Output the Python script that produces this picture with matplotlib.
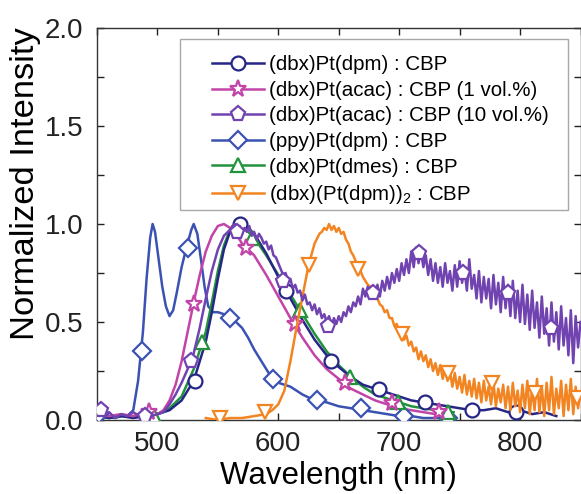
import matplotlib
matplotlib.use("Agg")
import matplotlib.pyplot as plt
from matplotlib.lines import Line2D
from matplotlib.patches import Rectangle
from matplotlib.ticker import MultipleLocator

plt.rcParams['font.family'] = ['Liberation Sans', 'DejaVu Sans']
plt.rcParams['mathtext.default'] = 'regular'

# ---------------- data ----------------
labels = ["(dbx)Pt(dpm) : CBP",
          "(dbx)Pt(acac) : CBP (1 vol.%)",
          "(dbx)Pt(acac) : CBP (10 vol.%)",
          "(ppy)Pt(dpm) : CBP",
          "(dbx)Pt(dmes) : CBP",
          "(dbx)(Pt(dpm))$_{2}$ : CBP"]
colors = ["#262687", "#c244a8", "#7143b0", "#3b52b2", "#22933c", "#f28522"]
markers = ["o", "*", "p", "D", "^", "v"]

# (dbx)Pt(dpm)
dpm_wl = [450, 460, 470, 480, 490, 500, 510, 520, 530, 540, 545, 550, 555, 560, 565, 570,
          575, 580, 590, 600, 610, 620, 630, 640, 650, 660, 670, 680, 690, 700, 710, 720,
          730, 740, 750, 760, 770, 780, 790, 800, 810, 820, 830]
dpm_I = [0.02, 0.01, 0.02, 0.01, 0.02, 0.03, 0.05, 0.10, 0.20, 0.40, 0.55, 0.72, 0.87, 0.96, 0.99, 1.00,
         0.98, 0.95, 0.85, 0.73, 0.62, 0.51, 0.41, 0.33, 0.27, 0.22, 0.18, 0.16, 0.14, 0.12, 0.10, 0.09,
         0.08, 0.07, 0.06, 0.05, 0.05, 0.06, 0.04, 0.05, 0.03, 0.04, 0.02]
dpm_mk_wl = [531, 568, 606, 644, 683, 721, 760, 797]
dpm_mk_I = [0.20, 1.00, 0.66, 0.30, 0.16, 0.09, 0.05, 0.04]

# (dbx)Pt(acac) 1 vol.%
acac1_wl = [450, 460, 470, 480, 485, 490, 493, 496, 500, 505, 510, 515, 520, 525, 530, 535,
            540, 545, 550, 555, 560, 565, 570, 575, 580, 590, 600, 610, 620, 630, 640, 650,
            660, 670, 680, 690, 700, 710, 720, 730, 740]
acac1_I = [0.02, 0.02, 0.03, 0.02, 0.03, 0.05, 0.06, 0.04, 0.03, 0.05, 0.10, 0.18, 0.30, 0.45, 0.60, 0.74,
           0.86, 0.94, 0.99, 1.00, 0.98, 0.95, 0.90, 0.87, 0.84, 0.74, 0.63, 0.52, 0.42, 0.33, 0.26, 0.21,
           0.16, 0.13, 0.10, 0.08, 0.06, 0.05, 0.04, 0.03, 0.02]
acac1_mk_wl = [493, 530, 573, 614, 655, 694, 733]
acac1_mk_I = [0.04, 0.59, 0.88, 0.49, 0.19, 0.085, 0.04]

# (dbx)Pt(acac) 10 vol.%
acac10_wl = [450, 455, 460, 465, 470, 475, 480, 485, 490, 495, 500, 505, 510, 515, 520, 525,
             530, 535, 540, 545, 550, 555,
             560, 562, 564, 566, 568, 570, 572, 574, 576, 578, 580, 582, 584, 586, 588, 590,
             592, 594, 596, 598, 600, 602, 604, 606, 608, 610, 612, 614, 616, 618, 620, 622,
             624, 626, 628, 630, 632, 634, 636, 638, 640, 642, 644, 646, 648, 650, 652, 654,
             656, 658, 660, 662, 664, 666, 668, 670, 672, 674, 676, 678, 680, 682, 684, 686,
             688, 690, 692, 694, 696, 698, 700, 702, 704, 706, 708, 710, 712, 714, 716, 718,
             720, 722, 724, 726, 728, 730, 732, 734, 736, 738, 740, 742, 744, 746, 748, 750,
             752, 754, 756, 758, 760, 762, 764, 766, 768, 770, 772, 774, 776, 778, 780, 782,
             784, 786, 788, 790, 792, 794, 796, 798, 800, 802, 804, 806, 808, 810, 812, 814,
             816, 818, 820, 822, 824, 826, 828, 830, 832, 834, 836, 838, 840, 842, 844, 846,
             848, 850]
acac10_I = [0.05, 0.02, 0.04, 0.01, 0.03, 0.02, 0.04, 0.02, 0.04, 0.02, 0.03, 0.04, 0.08, 0.13, 0.19, 0.26,
            0.34, 0.47, 0.62, 0.76, 0.87, 0.94,
            0.97, 0.99, 1.00, 0.97, 0.99, 0.95, 0.98, 0.96, 0.99, 0.94, 0.96, 0.92, 0.95, 0.93, 0.90, 0.91,
            0.87, 0.89, 0.84, 0.83, 0.80, 0.77, 0.74, 0.75, 0.71, 0.72, 0.67, 0.69, 0.65, 0.66, 0.61, 0.64,
            0.59, 0.60, 0.56, 0.59, 0.54, 0.57, 0.52, 0.54, 0.50, 0.53, 0.48, 0.52, 0.49, 0.53, 0.50, 0.55,
            0.53, 0.58, 0.55, 0.60, 0.58, 0.63, 0.59, 0.67, 0.63, 0.68, 0.62, 0.67, 0.64, 0.69, 0.63, 0.71,
            0.66, 0.73, 0.67, 0.75, 0.70, 0.77, 0.71, 0.80, 0.74, 0.82, 0.75, 0.86, 0.78, 0.88, 0.80, 0.86,
            0.78, 0.84, 0.74, 0.82, 0.71, 0.80, 0.70, 0.78, 0.68, 0.80, 0.70, 0.76, 0.66, 0.79, 0.68, 0.81,
            0.70, 0.77, 0.66, 0.82, 0.67, 0.74, 0.62, 0.76, 0.60, 0.73, 0.62, 0.72, 0.57, 0.74, 0.59, 0.70,
            0.55, 0.73, 0.57, 0.69, 0.53, 0.71, 0.52, 0.66, 0.50, 0.69, 0.49, 0.64, 0.46, 0.66, 0.47, 0.60,
            0.42, 0.63, 0.44, 0.57, 0.38, 0.60, 0.40, 0.55, 0.36, 0.58, 0.38, 0.52, 0.33, 0.56, 0.29, 0.53,
            0.37, 0.50]
acac10_mk_wl = [453, 490, 528, 566, 604, 641, 678, 716, 753, 790, 826]
acac10_mk_I = [0.05, 0.02, 0.30, 0.96, 0.71, 0.48, 0.65, 0.85, 0.75, 0.65, 0.47]

# (ppy)Pt(dpm)
ppy_wl = [450, 455, 460, 465, 470, 475, 480, 484, 488, 491, 494, 496, 498, 501, 504, 507,
          510, 513, 516, 520, 524, 528, 530, 533, 536, 539, 542, 546, 550, 555, 560, 565,
          570, 575, 580, 585, 590, 595, 600, 610, 620, 630, 640, 650, 660, 670, 680, 690,
          700, 710, 720, 730, 740, 745]
ppy_I = [0.02, 0.01, 0.02, 0.01, 0.02, 0.02, 0.05, 0.20, 0.45, 0.72, 0.93, 1.00, 0.96, 0.82, 0.68, 0.58,
         0.53, 0.56, 0.65, 0.78, 0.88, 0.97, 1.00, 0.95, 0.82, 0.68, 0.58, 0.55, 0.55, 0.54, 0.52, 0.50,
         0.47, 0.42, 0.36, 0.31, 0.26, 0.21, 0.19, 0.17, 0.13, 0.10, 0.09, 0.07, 0.06, 0.05, 0.04, 0.03,
         0.02, 0.02, 0.01, 0.01, 0.01, 0.01]
ppy_mk_wl = [452, 487, 525, 560, 596, 632, 668, 704, 740]
ppy_mk_I = [0.03, 0.35, 0.88, 0.52, 0.21, 0.10, 0.06, 0.02, 0.01]

# (dbx)Pt(dmes)
dmes_wl = [450, 460, 470, 480, 490, 500, 510, 520, 530, 540, 545, 550, 555, 560, 565, 570,
           575, 580, 590, 600, 610, 620, 630, 640, 650, 660, 670, 680, 690, 700, 710, 720,
           730, 740, 745]
dmes_I = [0.02, 0.01, 0.02, 0.02, 0.02, 0.03, 0.06, 0.12, 0.26, 0.45, 0.60, 0.76, 0.89, 0.97, 1.00, 0.99,
          0.96, 0.93, 0.84, 0.74, 0.64, 0.54, 0.44, 0.35, 0.28, 0.22, 0.17, 0.13, 0.11, 0.09, 0.07, 0.06,
          0.05, 0.04, 0.04]
dmes_mk_wl = [497, 537, 578, 618, 659, 699, 740]
dmes_mk_I = [0.02, 0.40, 0.93, 0.56, 0.22, 0.09, 0.04]

# (dbx)(Pt(dpm))2
dimer_wl = [540, 550, 560, 570, 580, 590, 595, 600, 605, 610, 615, 620, 625, 630, 634,
            636, 638, 640, 642, 644, 646, 648, 650, 652, 654, 656, 658,
            660, 662, 664, 666, 668, 670, 672, 674, 676, 678, 680, 682, 684, 686, 688, 690,
            692, 694, 696, 698, 700, 702, 704, 706, 708, 710, 712, 714, 716, 718, 720, 722,
            724, 726, 728, 730, 732, 734, 736, 738, 740, 742, 744, 746, 748, 750, 752, 754,
            756, 758, 760, 762, 764, 766, 768, 770, 772, 774, 776, 778, 780, 782, 784, 786,
            788, 790, 792, 794, 796, 798, 800, 802, 804, 806, 808, 810, 812, 814, 816, 818,
            820, 822, 824, 826, 828, 830, 832, 834, 836, 838, 840, 842, 844, 846, 848, 850]
dimer_I = [0.01, 0.00, 0.01, 0.01, 0.02, 0.03, 0.05, 0.08, 0.15, 0.30, 0.47, 0.63, 0.79, 0.90, 0.95,
           0.96, 0.98, 0.97, 1.00, 0.97, 0.99, 0.96, 0.98, 0.95, 0.96, 0.92, 0.90,
           0.86, 0.84, 0.81, 0.78, 0.76, 0.73, 0.71, 0.69, 0.68, 0.65, 0.63, 0.62, 0.59, 0.58, 0.55, 0.56,
           0.52, 0.52, 0.48, 0.49, 0.45, 0.46, 0.41, 0.43, 0.38, 0.40, 0.35, 0.37, 0.31, 0.35, 0.30, 0.33,
           0.27, 0.31, 0.25, 0.29, 0.23, 0.28, 0.21, 0.26, 0.20, 0.25, 0.17, 0.24, 0.16, 0.22, 0.14, 0.23,
           0.13, 0.20, 0.12, 0.21, 0.11, 0.19, 0.09, 0.20, 0.10, 0.17, 0.08, 0.19, 0.07, 0.16, 0.09, 0.18,
           0.06, 0.17, 0.05, 0.19, 0.07, 0.15, 0.04, 0.18, 0.06, 0.20, 0.03, 0.16, 0.05, 0.21, 0.04, 0.17,
           0.02, 0.19, 0.05, 0.22, 0.03, 0.16, 0.06, 0.20, 0.02, 0.18, 0.05, 0.21, 0.03, 0.17, 0.06, 0.14]
dimer_mk_wl = [552, 589, 625, 666, 702, 740, 777, 812, 847]
dimer_mk_I = [0.01, 0.04, 0.79, 0.77, 0.44, 0.24, 0.19, 0.14, 0.11]

series = [(dpm_wl, dpm_I, dpm_mk_wl, dpm_mk_I),
          (acac1_wl, acac1_I, acac1_mk_wl, acac1_mk_I),
          (acac10_wl, acac10_I, acac10_mk_wl, acac10_mk_I),
          (ppy_wl, ppy_I, ppy_mk_wl, ppy_mk_I),
          (dmes_wl, dmes_I, dmes_mk_wl, dmes_mk_I),
          (dimer_wl, dimer_I, dimer_mk_wl, dimer_mk_I)]

x_ticks = [500, 600, 700, 800]
y_ticks = [0.0, 0.5, 1.0, 1.5, 2.0]

# ---------------- plot ----------------
W, H = 581, 494
fig = plt.figure(figsize=(W / 100, H / 100), dpi=100)
ax = fig.add_axes([97 / W, 1 - 420 / H, (580.5 - 97) / W, (420 - 28) / H])

msizes = [10, 12.5, 11, 9.5, 10, 10]
zorders = [3, 3, 4, 3, 3, 3.5]
draw_order = [3, 5, 4, 0, 1, 2]
LW = 1.8
for i in draw_order:
    wl, I, mwl, mI = series[i]
    ax.plot(wl, I, color=colors[i], lw=LW, zorder=zorders[i])
    ax.plot(mwl, mI, ls='none', marker=markers[i], ms=msizes[i], mfc='white',
            mec=colors[i], mew=1.6, zorder=zorders[i] + 0.1, clip_on=True)

ax.set_xlim(450, 850)
ax.set_ylim(0, 2.0)
ax.set_xticks(x_ticks)
ax.set_yticks(y_ticks)
ax.xaxis.set_minor_locator(MultipleLocator(50))
ax.yaxis.set_minor_locator(MultipleLocator(0.25))
ax.set_yticklabels([f"{v:.1f}" for v in y_ticks])
ax.tick_params(which='both', direction='in', top=True, right=True,
               length=5, width=1, labelsize=20, colors='#222222')
ax.tick_params(axis='x', pad=8)
ax.tick_params(axis='y', pad=10)
for s in ax.spines.values():
    s.set_linewidth(1)
    s.set_color('#333333')

ax.set_xlabel("Wavelength (nm)", fontsize=22.5)
ax.xaxis.set_label_coords(0.5, (420 - 476) / 392, transform=ax.transAxes)
ax.xaxis.label.set_va('center')
ax.set_ylabel("Normalized Intensity", fontsize=24.8)
ax.yaxis.set_label_coords((26 - 97) / 483.5, (420 - 184) / 392)
ax.yaxis.label.set_va('center')

# legend box
rect = Rectangle((180 / W, 1 - 210 / H), 388 / W, 171 / H, transform=fig.transFigure,
                 facecolor='white', edgecolor='#a8a8a8', lw=1, zorder=5)
ax.add_patch(rect)
handles = [Line2D([], [], color=colors[i], lw=LW, marker=markers[i], ms=msizes[i],
                  mfc='white', mec=colors[i], mew=1.6) for i in range(6)]
leg = ax.legend(handles, labels, loc='upper left', bbox_to_anchor=(202 / W, 1 - 45 / H),
                bbox_transform=fig.transFigure, frameon=False, fontsize=14.8,
                handlelength=2.5, handletextpad=0.25, borderpad=0, labelspacing=0.32,
                numpoints=1)
leg.set_zorder(6)

fig.savefig("out.png", dpi=100)
